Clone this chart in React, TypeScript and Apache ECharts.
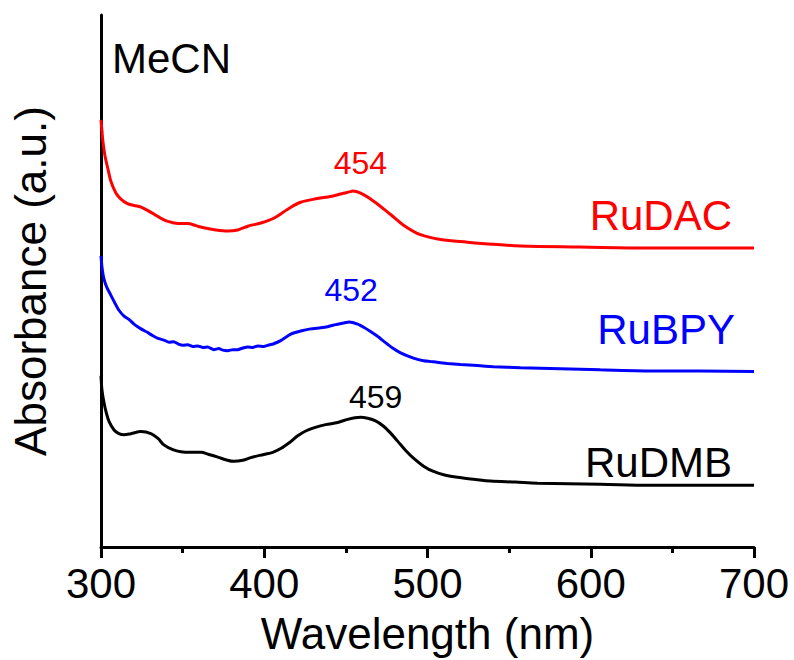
import React, { useEffect, useRef } from "react";
import * as echarts from "echarts";

// Wavelength (nm) / absorbance (a.u., offset for display)
const rudacWavelength = [300, 300.6, 301.2, 302.4, 304.3, 306.1, 309.2, 312.2, 315.9, 320.2, 324.5, 330.6, 336.7, 341.0, 347.1, 353.2, 358.1, 363.0, 370.3, 377.7, 383.8, 389.9, 397.9, 405.8, 414.4, 422.3, 432.7, 440.7, 448.6, 452.9, 454, 459.0, 467.0, 477.4, 485.3, 495.7, 508.0, 524.5, 540.4, 556.9, 593.6, 636.4, 700];
const rudacAbs = [8.03, 7.81, 7.62, 7.36, 7.10, 6.87, 6.65, 6.54, 6.46, 6.42, 6.39, 6.29, 6.18, 6.12, 6.08, 6.08, 6.04, 6.00, 5.96, 5.94, 5.96, 6.03, 6.09, 6.18, 6.35, 6.48, 6.55, 6.59, 6.65, 6.68, 6.69, 6.65, 6.50, 6.25, 6.05, 5.87, 5.78, 5.73, 5.69, 5.66, 5.64, 5.62, 5.62];

const rubpyWavelength = [300, 300.6, 301.8, 303.7, 306.1, 308.6, 311.0, 314.1, 317.1, 320.2, 324.5, 328.1, 331.8, 334.9, 338.5, 341.6, 344.6, 347.1, 350.2, 353.2, 356.3, 359.3, 362.4, 365.4, 369.1, 372.2, 374.6, 377.7, 380.7, 383.8, 386.9, 389.9, 393.0, 396.0, 399.7, 402.1, 405.8, 410.1, 416.2, 422.3, 428.4, 434.6, 438.8, 443.7, 448.6, 452, 457.2, 460.9, 465.1, 469.4, 473.1, 478.6, 483.5, 491.4, 497.6, 503.7, 512.2, 520.2, 530.6, 540.4, 556.9, 581.3, 605.8, 636.4, 667.0, 700];
const rubpyAbs = [5.47, 5.26, 5.04, 4.87, 4.73, 4.58, 4.45, 4.34, 4.28, 4.19, 4.10, 4.04, 3.97, 3.92, 3.89, 3.85, 3.86, 3.82, 3.79, 3.80, 3.77, 3.78, 3.75, 3.76, 3.71, 3.73, 3.70, 3.69, 3.71, 3.71, 3.74, 3.76, 3.75, 3.78, 3.77, 3.79, 3.82, 3.88, 4.00, 4.06, 4.10, 4.12, 4.14, 4.18, 4.21, 4.23, 4.19, 4.13, 4.05, 3.96, 3.87, 3.74, 3.65, 3.55, 3.50, 3.48, 3.45, 3.43, 3.41, 3.39, 3.37, 3.35, 3.33, 3.31, 3.31, 3.30];

const rudmbWavelength = [300, 300.6, 301.8, 303.1, 304.9, 308.0, 311.0, 314.1, 318.3, 324.5, 330.6, 334.9, 338.5, 344.0, 348.9, 355.0, 361.2, 366.1, 371.6, 376.5, 381.3, 386.9, 391.7, 399.7, 405.2, 410.1, 416.2, 420.5, 425.4, 430.3, 437.6, 445.0, 451.1, 455.5, 459, 463.3, 468.2, 473.1, 477.4, 481.7, 486.5, 491.4, 497.6, 503.7, 511.0, 518.3, 529.4, 538.5, 553.8, 567.3, 605.8, 636.4, 667.0, 700];
const rudmbAbs = [3.22, 2.95, 2.72, 2.54, 2.36, 2.20, 2.13, 2.11, 2.13, 2.17, 2.13, 2.04, 1.92, 1.83, 1.79, 1.78, 1.78, 1.74, 1.69, 1.64, 1.61, 1.63, 1.68, 1.74, 1.78, 1.85, 1.98, 2.09, 2.18, 2.24, 2.30, 2.34, 2.40, 2.43, 2.44, 2.42, 2.37, 2.27, 2.14, 1.99, 1.82, 1.67, 1.52, 1.42, 1.35, 1.31, 1.27, 1.24, 1.22, 1.20, 1.18, 1.16, 1.16, 1.16];

const seriesNames = ["RuDAC", "RuBPY", "RuDMB"];
const peakWavelengths = [454, 452, 459];
const xTicks = [300, 400, 500, 600, 700];

const FONT = "'Liberation Sans', Arial, sans-serif";

function pairs(xs: number[], ys: number[]) {
  return xs.map((x, i) => [x, ys[i]]);
}
function valueAt(xs: number[], ys: number[], x: number) {
  let best = 0;
  for (let i = 0; i < xs.length; i++) if (Math.abs(xs[i] - x) < Math.abs(xs[best] - x)) best = i;
  return ys[best];
}

export default function App() {
  const ref = useRef<HTMLDivElement>(null);
  useEffect(() => {
    if (!ref.current) return;
    const chart = echarts.init(ref.current, null, { renderer: "svg" });
    const datasets = [
      { xs: rudacWavelength, ys: rudacAbs, color: "#ff0000", smooth: 0.35, peakOffset: [8, 0], peakDist: 12, nameOffset: [0, -33], nameDist: 22 },
      { xs: rubpyWavelength, ys: rubpyAbs, color: "#0000ff", smooth: 0.15, peakOffset: [2, 0], peakDist: 16, nameOffset: [0, -42], nameDist: 19 },
      { xs: rudmbWavelength, ys: rudmbAbs, color: "#000000", smooth: 0.35, peakOffset: [15, 0], peakDist: 4, nameOffset: [0, -23], nameDist: 22 },
    ];
    const series = datasets.map((d, i) => {
      const lastX = d.xs[d.xs.length - 1];
      const lastY = d.ys[d.ys.length - 1];
      const pk = peakWavelengths[i];
      return {
        type: "line",
        name: seriesNames[i],
        data: pairs(d.xs, d.ys),
        showSymbol: false,
        smooth: d.smooth,
        lineStyle: { color: d.color, width: 3 },
        itemStyle: { color: d.color },
        markPoint: {
          symbol: "circle",
          symbolSize: 0,
          silent: true,
          data: [
            {
              coord: [pk, valueAt(d.xs, d.ys, pk)],
              label: {
                show: true,
                formatter: String(pk),
                position: "top",
                distance: d.peakDist,
                offset: d.peakOffset,
                color: d.color,
                fontSize: 32,
                fontFamily: FONT,
              },
            },
            {
              coord: [lastX, lastY],
              label: {
                show: true,
                formatter: seriesNames[i],
                position: "left",
                distance: d.nameDist,
                offset: d.nameOffset,
                color: d.color,
                fontSize: 42,
                fontFamily: FONT,
              },
            },
          ],
        },
      };
    });
    chart.setOption({
      animation: false,
      backgroundColor: "#ffffff",
      grid: { left: 100, right: 40, top: 15, bottom: 111, containLabel: false },
      xAxis: {
        type: "value",
        min: xTicks[0],
        max: xTicks[xTicks.length - 1],
        interval: xTicks[1] - xTicks[0],
        name: "Wavelength (nm)",
        nameLocation: "middle",
        nameGap: 64,
        nameTextStyle: { fontSize: 44, color: "#000", fontFamily: FONT },
        axisLine: { show: true, lineStyle: { color: "#000", width: 3 } },
        axisTick: { show: true, length: 11, lineStyle: { color: "#000", width: 3 } },
        minorTick: { show: true, splitNumber: 2, length: 6, lineStyle: { color: "#000", width: 3 } },
        axisLabel: { fontSize: 42, color: "#000", fontFamily: FONT, margin: 15 },
        splitLine: { show: false },
      },
      yAxis: {
        type: "value",
        min: 0,
        max: 10,
        name: "Absorbance (a.u.)",
        nameLocation: "middle",
        nameGap: 49,
        nameTextStyle: { fontSize: 44, color: "#000", fontFamily: FONT },
        axisLine: { show: true, lineStyle: { color: "#000", width: 3 } },
        axisTick: { show: false },
        axisLabel: { show: false },
        splitLine: { show: false },
      },
      graphic: [
        {
          type: "text",
          left: 112,
          top: 37,
          style: { text: "MeCN", fontSize: 42, fill: "#000", font: `42px ${FONT}` },
        },
      ],
      series,
    });
    return () => chart.dispose();
  }, []);
  return <div ref={ref} style={{ position: "fixed", left: 0, top: 0, width: 794, height: 660, background: "#fff" }} />;
}
